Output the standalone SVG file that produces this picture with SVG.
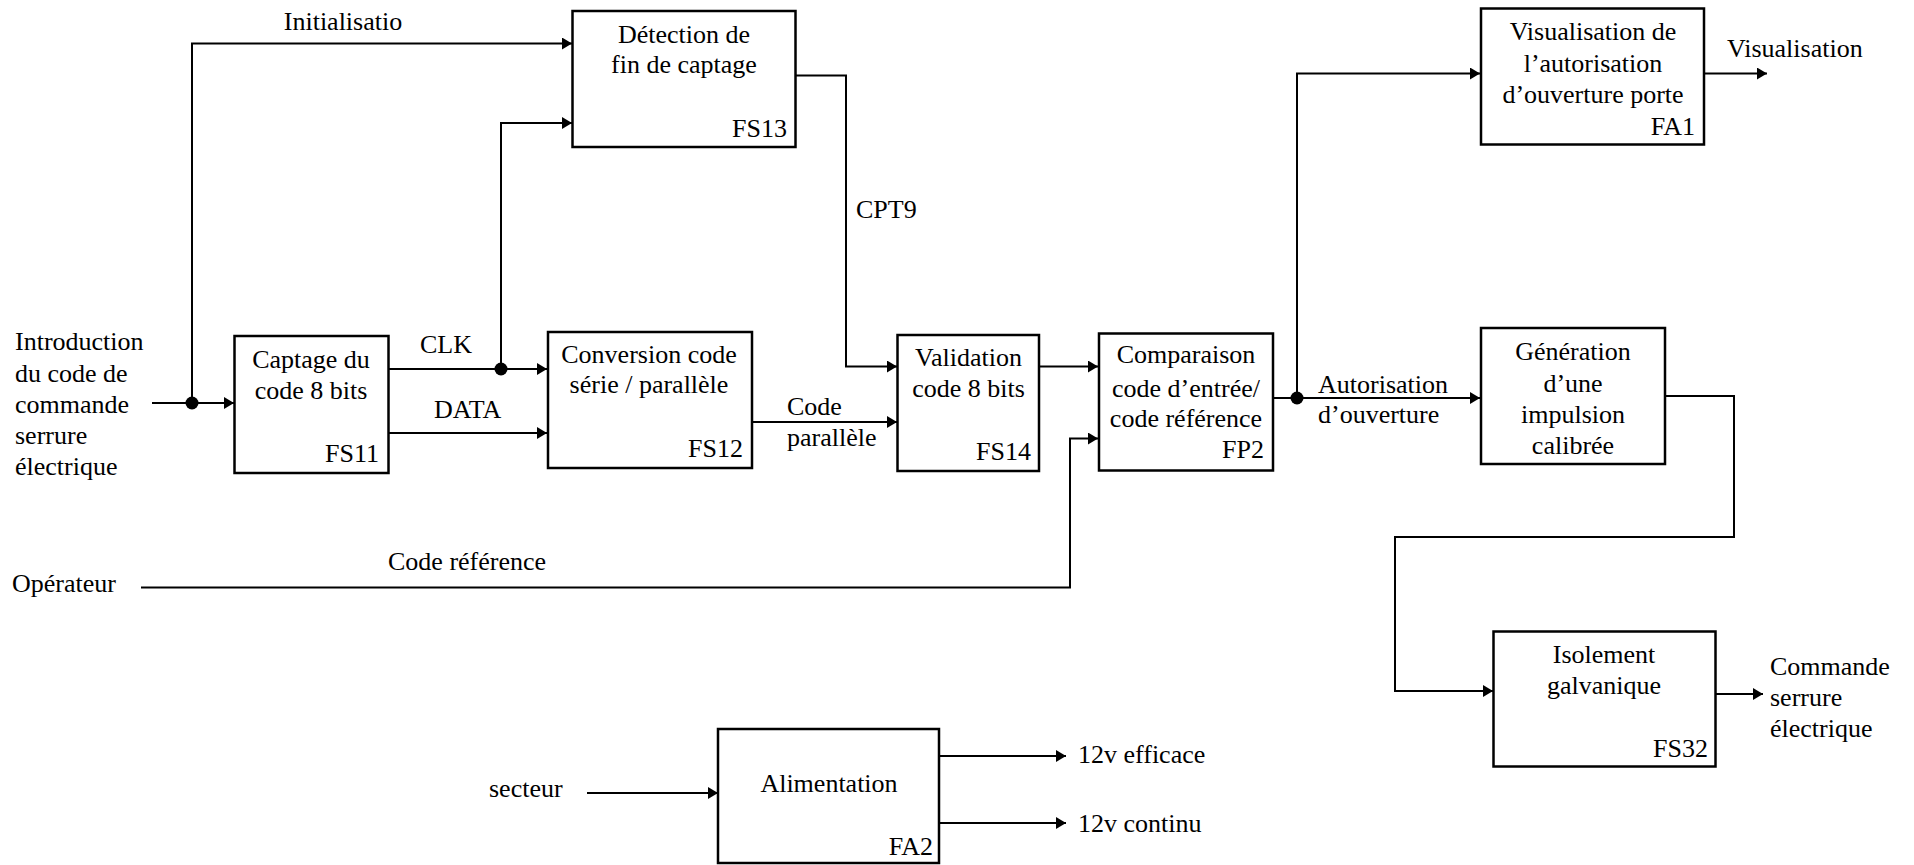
<svg xmlns="http://www.w3.org/2000/svg" width="1914" height="865" viewBox="0 0 1914 865" font-family="Liberation Serif, Times New Roman, serif" font-size="26">
<defs>
<marker id="arr" markerUnits="userSpaceOnUse" markerWidth="12" markerHeight="14" refX="10" refY="6" orient="auto">
<path d="M0,0 L10,6 L0,12 z" fill="#000"/>
</marker>
<style>
.c{text-anchor:middle}
.r{text-anchor:end}
.box{fill:#fff;stroke:#000;stroke-width:2.5}
.ln{fill:none;stroke:#000;stroke-width:2}
.ar{marker-end:url(#arr)}
</style>
</defs>
<rect width="1914" height="865" fill="#fff"/>
<g id="connectors">
<path class="ln ar" d="M152,403 H234"/>
<path class="ln ar" d="M192,403 V43.5 H572"/>
<path class="ln ar" d="M388,369 H547"/>
<path class="ln ar" d="M501,369 V123 H572"/>
<path class="ln ar" d="M388,433 H547"/>
<path class="ln ar" d="M796,75.5 H846 V366.5 H897"/>
<path class="ln ar" d="M752,422 H897"/>
<path class="ln ar" d="M1039,366.5 H1098"/>
<path class="ln ar" d="M141,587.5 H1070 V438.5 H1098"/>
<path class="ln ar" d="M1273,398 H1480"/>
<path class="ln ar" d="M1297,398 V73.5 H1480"/>
<path class="ln ar" d="M1704,73.5 H1767"/>
<path class="ln ar" d="M1665,396 H1734 V537 H1395 V691 H1493"/>
<path class="ln ar" d="M1716,694 H1763"/>
<path class="ln ar" d="M587,793 H718"/>
<path class="ln ar" d="M940,756 H1066"/>
<path class="ln ar" d="M940,823 H1066"/>
<circle cx="192" cy="403" r="6.5" fill="#000"/>
<circle cx="501" cy="369" r="6.5" fill="#000"/>
<circle cx="1297" cy="398" r="6.5" fill="#000"/>
</g>
<g id="labels">
<text x="343" y="30" class="c">Initialisatio</text>
<text x="856" y="218">CPT9</text>
<text x="1727" y="57">Visualisation</text>
<text x="15" y="350">Introduction</text>
<text x="15" y="382">du code de</text>
<text x="15" y="413">commande</text>
<text x="15" y="444">serrure</text>
<text x="15" y="475">électrique</text>
<text x="420" y="353">CLK</text>
<text x="434" y="418">DATA</text>
<text x="787" y="415">Code</text>
<text x="787" y="446">parallèle</text>
<text x="388" y="570">Code référence</text>
<text x="12" y="592">Opérateur</text>
<text x="1318" y="393">Autorisation</text>
<text x="1318" y="423">d’ouverture</text>
<text x="1770" y="675">Commande</text>
<text x="1770" y="706">serrure</text>
<text x="1770" y="737">électrique</text>
<text x="489" y="797">secteur</text>
<text x="1078" y="763">12v efficace</text>
<text x="1078" y="832">12v continu</text>
</g>
<g id="FS13">
<rect class="box" x="572.5" y="11" width="223" height="136"/>
<text x="684" y="43" class="c">Détection de</text>
<text x="684" y="73" class="c">fin de captage</text>
<text x="787" y="137" class="r">FS13</text>
</g>
<g id="FA1">
<rect class="box" x="1481" y="8.5" width="223" height="136"/>
<text x="1593" y="40" class="c">Visualisation de</text>
<text x="1593" y="72" class="c">l’autorisation</text>
<text x="1593" y="103" class="c">d’ouverture porte</text>
<text x="1695" y="135" class="r">FA1</text>
</g>
<g id="FS11">
<rect class="box" x="234.5" y="336" width="154" height="137"/>
<text x="311" y="368" class="c">Captage du</text>
<text x="311" y="399" class="c">code 8 bits</text>
<text x="379" y="462" class="r">FS11</text>
</g>
<g id="FS12">
<rect class="box" x="548" y="332" width="204" height="136"/>
<text x="649" y="363" class="c">Conversion code</text>
<text x="649" y="393" class="c">série / parallèle</text>
<text x="743" y="457" class="r">FS12</text>
</g>
<g id="FS14">
<rect class="box" x="897.5" y="335" width="141.5" height="136"/>
<text x="968.5" y="366" class="c">Validation</text>
<text x="968.5" y="397" class="c">code 8 bits</text>
<text x="1031" y="460" class="r">FS14</text>
</g>
<g id="FP2">
<rect class="box" x="1099" y="333.5" width="174" height="137"/>
<text x="1186" y="363" class="c">Comparaison</text>
<text x="1186" y="397" class="c">code d’entrée/</text>
<text x="1186" y="427" class="c">code référence</text>
<text x="1264" y="458" class="r">FP2</text>
</g>
<g id="FS31">
<rect class="box" x="1481" y="328" width="184" height="136"/>
<text x="1573" y="360" class="c">Génération</text>
<text x="1573" y="392" class="c">d’une</text>
<text x="1573" y="423" class="c">impulsion</text>
<text x="1573" y="454" class="c">calibrée</text>
</g>
<g id="FS32">
<rect class="box" x="1493.5" y="631.5" width="222" height="135"/>
<text x="1604" y="663" class="c">Isolement</text>
<text x="1604" y="694" class="c">galvanique</text>
<text x="1708" y="757" class="r">FS32</text>
</g>
<g id="FA2">
<rect class="box" x="718" y="729" width="221" height="134"/>
<text x="829" y="792" class="c">Alimentation</text>
<text x="933" y="855" class="r">FA2</text>
</g>
</svg>
